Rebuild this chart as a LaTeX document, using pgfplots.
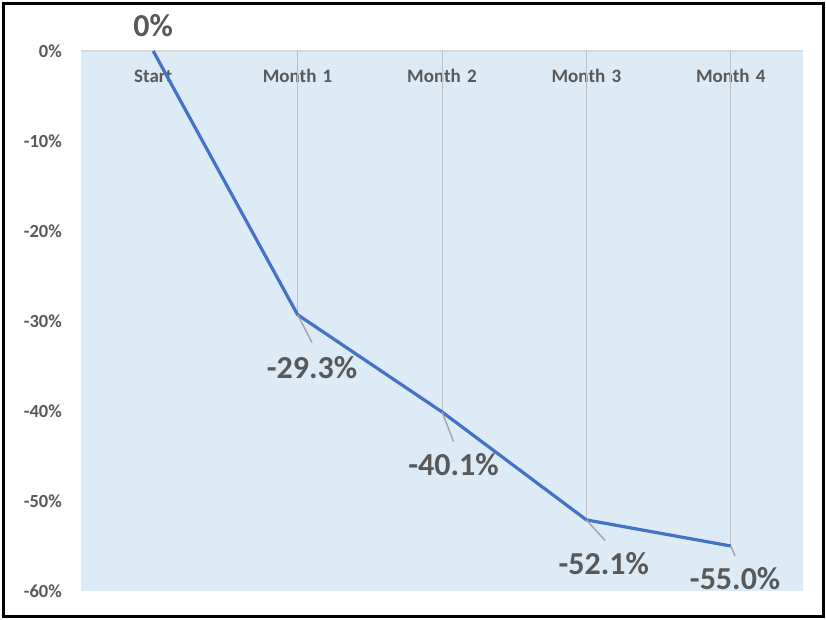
\documentclass[border=0pt]{standalone}
\usepackage{pgfplots}
\pgfplotsset{compat=1.18}
\usepackage{fontspec}
\setmainfont{Carlito}
\definecolor{plotbg}{HTML}{DDEBF7}
\definecolor{txtgray}{HTML}{595959}
\definecolor{axgray}{HTML}{D9D9D9}
\definecolor{dropgray}{HTML}{BFBFBF}
\definecolor{leadgray}{HTML}{A6A6A6}
\definecolor{linecol}{HTML}{4472C4}
\begin{document}
\begin{tikzpicture}
\path[use as bounding box] (0,0) rectangle (826pt,619pt);
\begin{axis}[
  at={(81pt,28pt)}, anchor=south west,
  scale only axis, width=722pt, height=540pt,
  xmin=-0.5, xmax=4.5, ymin=-60, ymax=0,
  clip=false,
  axis background/.style={fill=plotbg},
  separate axis lines,
  axis x line*=top, axis y line*=left,
  y axis line style={draw=none},
  x axis line style={draw=axgray, line width=2pt, -},
  xtick={0,1,2,3,4},
  xticklabels={Start, Month\hspace{0.33em}1, Month\hspace{0.33em}2, Month\hspace{0.33em}3, Month\hspace{0.33em}4},
  xtick style={draw=none},
  extra x ticks={-0.5,0.5,1.5,2.5,3.5,4.5},
  extra x tick labels={},
  extra x tick style={tick style={draw=axgray, line width=1.5pt}, major tick length=7pt, tick align=inside},
  xticklabel style={anchor=base, yshift=-31.5pt, font=\fontsize{19}{21}\selectfont\bfseries, text=txtgray},
  ytick={-60,-50,-40,-30,-20,-10,0},
  yticklabels={-60\%,-50\%,-40\%,-30\%,-20\%,-10\%,0\%},
  ytick style={draw=none},
  yticklabel style={anchor=east, inner sep=0pt, xshift=-19pt, font=\fontsize{18.5}{20}\selectfont\bfseries, text=txtgray},
  /pgf/number format/assume math mode=true,
]
\addplot[ycomb, draw=dropgray, line width=1pt, no marks] coordinates {(1,-29.3)(2,-40.1)(3,-52.1)(4,-55.0)};
\addplot[color=linecol, line width=3.2pt, no marks, line join=round] coordinates {(0,0)(1,-29.3)(2,-40.1)(3,-52.1)(4,-55.0)};
\draw[leadgray, line width=1.5pt] (axis cs:1,-29.3) -- (axis cs:1.10,-32.4);
\draw[leadgray, line width=1.5pt] (axis cs:2,-40.1) -- (axis cs:2.08,-43.4);
\draw[leadgray, line width=1.5pt] (axis cs:3,-52.1) -- (axis cs:3.13,-54.4);
\draw[leadgray, line width=1.5pt] (axis cs:4,-55.0) -- (axis cs:4.03,-56.1);
\tikzset{lbl/.style={font=\fontsize{32}{34}\selectfont\bfseries, text=txtgray, inner sep=0pt}}
\node[lbl] at (axis cs:0,2.8) {0\%};
\node[lbl] at (axis cs:1.10,-35.2) {-29.3\%};
\node[lbl] at (axis cs:2.08,-46.0) {-40.1\%};
\node[lbl] at (axis cs:3.12,-57.0) {-52.1\%};
\node[lbl] at (axis cs:4.03,-58.6) {-55.0\%};
\end{axis}
\draw[line width=3pt] (3pt,3pt) rectangle (823pt,615pt);
\end{tikzpicture}
\end{document}
